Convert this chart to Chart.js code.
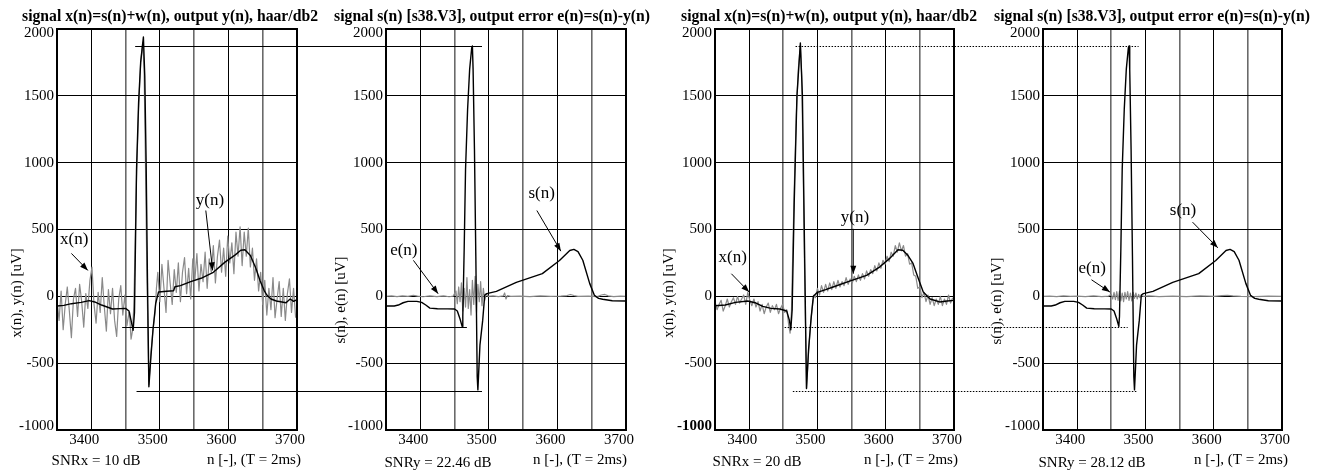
<!DOCTYPE html>
<html>
<head>
<meta charset="utf-8">
<script src="https://cdn.jsdelivr.net/npm/chart.js@4.4.1/dist/chart.umd.min.js"></script>
<style>
  html, body { margin: 0; padding: 0; background: #fff; overflow: hidden; }
  #wrap { position: relative; width: 1317px; height: 472px; }
  canvas { position: absolute; left: 0; top: 0; }
</style>
</head>
<body>
<div id="wrap">
  <canvas id="c0" width="1317" height="472"></canvas>
  <canvas id="c1" width="1317" height="472"></canvas>
  <canvas id="c2" width="1317" height="472"></canvas>
  <canvas id="c3" width="1317" height="472"></canvas>
</div>
<script>
// ---------------- DATA ----------------
const X_MIN = 3350, X_MAX = 3700;
const Y_MIN = -1000, Y_MAX = 2000;
const xTickStep = 50;
const yTickStep = 500;
const NOISE_STEP = 3;

// clean signal s(n) [s38.V3]
const sN = [3350,3362,3368,3375,3382,3395,3402,3408,3414,3425,3440,3450,3454,3458,3461,3462,3464,3466,3469,3472,3475,3476,3477,3479,3481,3483,3484,3487,3491,3494,3497,3511,3540,3578,3603,3618,3624,3630,3637,3647,3654,3660,3666,3680,3700];
const sV = [-72,-72,-65,-48,-38,-38,-45,-65,-88,-93,-94,-95,-110,-170,-225,-150,350,950,1400,1700,1860,1873,1700,1100,300,-600,-700,-365,-180,10,20,37,105,170,268,343,351,335,270,97,7,-15,-22,-33,-35];

// panel 1 (SNRx = 10 dB): noisy x(n), sampled every NOISE_STEP outside the QRS
const x1PreStart = 3350;
const x1Pre = [-30,-180,40,-250,-60,70,-110,-310,-20,60,-150,90,-40,-230,20,-90,120,219,-60,-200,30,-120,140,-80,-260,50,-130,60,-180,-300,-20,80,-140,10,-220,-120];
const x1qN = [3456,3458,3460,3462,3464,3466,3469,3472,3475,3477,3479,3481,3484,3487,3490,3493,3495];
const x1qV = [-150,-320,-260,-80,400,900,1400,1750,1900,1700,1000,200,-660,-420,-250,-120,60];
const x1PostStart = 3497;
const x1Post = [180,-40,240,60,-120,270,100,-60,200,30,250,
  -40,180,290,20,210,-20,280,120,320,40,240,
  110,330,60,280,180,380,100,300,420,180,360,
  150,450,250,400,170,480,300,520,230,480,300,
  510,220,360,120,280,40,180,-60,120,-140,60,
  -100,140,-160,-20,110,-150,60,-180,20,130,-120,
  60,-160];
// panel 1 output y(n)
const y1N = [3350,3360,3371,3385,3397,3405,3415,3431,3442,3450,3455,3458,3461,3463,3466,3469,3472,3476,3478,3480,3482,3484,3487,3490,3494,3498,3510,3520,3522,3530,3545,3560,3578,3595,3610,3618,3624,3632,3640,3646,3652,3656,3662,3670,3678,3684,3690,3695,3700];
const y1V = [-72,-68,-55,-45,-32,-42,-65,-95,-92,-90,-110,-180,-254,-120,950,1450,1750,1940,1650,1000,100,-677,-450,-250,-52,32,38,42,72,80,110,135,180,256,310,345,348,306,210,119,45,10,-20,-35,-42,-48,-20,-38,-25];

// panel 2 error e(n), SNRy = 22.46 dB
const e2N = [3350,3358,3366,3374,3382,3390,3396,3404,3414,3424,3434,3442,3448,3452,3454,3456,3458,3460,3462,3464,3466,3468,3470,3472,3474,3476,3478,3480,3482,3484,3486,3488,3490,3492,3494,3496,3499,3506,3514,3521,3523,3525,3527,3532,3545,3560,3575,3590,3605,3614,3619,3624,3630,3645,3658,3664,3669,3674,3682,3692,3700];
const e2V = [0,3,-2,4,0,8,2,-3,3,-2,4,-3,2,40,-55,70,-40,100,-110,60,-80,140,-90,50,-140,120,-60,150,-120,90,-40,110,-70,60,-30,20,0,4,-2,3,25,-20,5,0,2,-2,3,0,2,6,14,6,0,2,-2,10,14,4,-2,2,0];

// panel 3 (SNRx = 20 dB): noisy x(n)
const x3PreStart = 3350;
const x3Pre = [-40,-100,-60,-30,-110,-70,-20,-80,-40,-10,-60,0,-50,-20,10,-60,30,-30,-70,-20,-80,-40,-110,-60,-130,-80,-50,-120,-70,-100,-60,-130,-90,-60,-120,-100];
const x3qN = [3456,3458,3460,3462,3464,3466,3469,3472,3475,3477,3479,3481,3484,3487,3490,3493,3495];
const x3qV = [-130,-220,-276,-110,350,800,1350,1700,1880,1650,1000,250,-690,-420,-200,-60,10];
const x3PostStart = 3497;
const x3Post = [-10,60,10,80,30,90,40,100,50,110,60,
  120,70,110,80,140,90,130,100,150,110,160,
  120,170,130,190,150,200,170,230,190,250,210,
  270,240,300,260,330,300,380,330,400,340,380,
  300,320,240,250,160,150,60,70,-10,30,-40,
  10,-60,-10,-70,-20,-60,0,-70,-20,-60,10,
  -50,-10];
// panel 3 output y(n)
const y3N = [3350,3365,3380,3398,3410,3420,3432,3445,3455,3459,3461,3463,3466,3470,3475,3478,3481,3484,3487,3491,3494,3500,3512,3523,3545,3572,3591,3605,3618,3625,3632,3640,3648,3655,3665,3679,3690,3700];
const y3V = [-70,-65,-45,-35,-50,-75,-90,-95,-110,-180,-250,-100,700,1500,1895,1500,400,-690,-400,-150,0,30,50,70,110,157,219,280,348,345,310,246,130,32,-20,-42,-35,-30];

// panel 4 error e(n), SNRy = 28.12 dB
const e4N = [3350,3360,3370,3380,3390,3400,3412,3424,3436,3446,3450,3452,3454,3456,3458,3460,3462,3464,3466,3468,3470,3472,3474,3476,3478,3480,3482,3484,3486,3488,3490,3492,3494,3497,3505,3520,3540,3560,3580,3600,3612,3620,3628,3640,3660,3680,3700];
const e4V = [0,2,-2,3,0,2,-2,3,-2,2,15,-20,30,-25,35,-30,40,-35,25,-40,30,-20,35,-30,25,-35,30,-15,25,-20,15,-10,8,0,3,-2,2,-2,3,0,5,8,3,0,-2,2,0];

// texts
const titles = ["signal x(n)=s(n)+w(n), output y(n), haar/db2", "signal s(n) [s38.V3], output error e(n)=s(n)-y(n)",
                "signal x(n)=s(n)+w(n), output y(n), haar/db2", "signal s(n) [s38.V3], output error e(n)=s(n)-y(n)"];
const yTitles = ["x(n), y(n) [uV]", "s(n), e(n) [uV]", "x(n), y(n) [uV]", "s(n), e(n) [uV]"];
const snrTexts = ["SNRx = 10 dB", "SNRy = 22.46 dB", "SNRx = 20 dB", "SNRy = 28.12 dB"];
const xTitle = "n [-], (T = 2ms)";

// connecting reference levels (value, [panel, n] -> [panel, n])
const links12 = [ {v: 1873, a: [0, 3464], b: [1, 3490]}, {v: -229, a: [0, 3445], b: [1, 3468]}, {v: -709, a: [0, 3466], b: [1, 3490]} ];
const links34 = [ {v: 1873, a: [2, 3468], b: [3, 3490]}, {v: -229, a: [2, 3452], b: [3, 3474]}, {v: -709, a: [2, 3464], b: [3, 3488]} ];

// ---------------- HELPERS ----------------
const pts = (ns, vs) => ns.map((n, i) => ({x: n, y: vs[i]}));
const stepPts = (start, vs) => vs.map((v, i) => ({x: start + i * NOISE_STEP, y: v}));
const noisy = (ps, pre, qn, qv, pst, post) => stepPts(ps, pre).concat(pts(qn, qv), stepPts(pst, post));

const FONT = '"Liberation Serif", "Times New Roman", serif';
const GREY = '#8a8a8a';

// layout of each panel (plot area in px) and text placement
const PANELS = [
  {left: 57,   right: 297,  titleX: 170,  yTitleX: 17,   yTitleY: 293, snrX: 96,   labX: 254,  snrY: 461,
   notes: [{t: 'x(n)', tx: 3375, ty: 425, fx: 3371, fy: 321, ax: 3395, ay: 194},
           {t: 'y(n)', tx: 3573, ty: 716, fx: 3567, fy: 642, ax: 3577, ay: 194}]},
  {left: 386,  right: 626,  titleX: 492,  yTitleX: 341,  yTitleY: 300, snrX: 438,  labX: 580,  snrY: 463,
   notes: [{t: 'e(n)', tx: 3376, ty: 343, fx: 3390, fy: 269, ax: 3426, ay: 20},
           {t: 's(n)', tx: 3577, ty: 769, fx: 3570, fy: 642, ax: 3605, ay: 338}]},
  {left: 715,  right: 954,  titleX: 829,  yTitleX: 669,  yTitleY: 293, snrX: 757,  labX: 911,  snrY: 462,
   notes: [{t: 'x(n)', tx: 3376, ty: 293, fx: 3374, fy: 169, ax: 3400, ay: 32},
           {t: 'y(n)', tx: 3555, ty: 590, fx: 3552.5, fy: 505, ax: 3552.5, ay: 169}]},
  {left: 1043, right: 1282, titleX: 1152, yTitleX: 997,  yTitleY: 301, snrX: 1092, labX: 1241, snrY: 463,
   notes: [{t: 'e(n)', tx: 3422, ty: 209, fx: 3421, fy: 124, ax: 3448, ay: 32},
           {t: 's(n)', tx: 3555, ty: 642, fx: 3569, fy: 555, ax: 3606, ay: 363}]}
];

const charts = [];

function arrow(ctx, x1, y1, x2, y2) {
  ctx.beginPath(); ctx.moveTo(x1, y1); ctx.lineTo(x2, y2); ctx.stroke();
  const ang = Math.atan2(y2 - y1, x2 - x1), L = 8, W = 3;
  ctx.beginPath();
  ctx.moveTo(x2, y2);
  ctx.lineTo(x2 - L * Math.cos(ang) + W * Math.sin(ang), y2 - L * Math.sin(ang) - W * Math.cos(ang));
  ctx.lineTo(x2 - L * Math.cos(ang) - W * Math.sin(ang), y2 - L * Math.sin(ang) + W * Math.cos(ang));
  ctx.closePath(); ctx.fill();
}

// nudge the extreme y tick labels inside the frame, like the original
const edgeLabelPlugin = {
  id: 'edgeLabels',
  beforeDraw(chart) {
    const ys = chart.scales.y;
    if (!ys || !ys.getLabelItems) return;
    ys.getLabelItems().forEach(it => {
      if (it._nudged) return;
      const t = it.options && it.options.translation;
      if (!t) return;
      if (String(it.label) === String(Y_MAX)) t[1] += 4;
      if (String(it.label) === String(Y_MIN)) t[1] -= 4;
      it._nudged = true;
    });
  }
};

const decoPlugin = {
  id: 'deco',
  afterDraw(chart) {
    const idx = chart.$panel;
    const P = PANELS[idx];
    const ctx = chart.ctx, a = chart.chartArea, xs = chart.scales.x, ys = chart.scales.y;
    ctx.save();
    ctx.strokeStyle = '#000'; ctx.fillStyle = '#000';
    ctx.lineWidth = 2;
    ctx.strokeRect(a.left, a.top, a.right - a.left, a.bottom - a.top);
    // title
    ctx.font = 'bold 15.7px ' + FONT;
    ctx.textAlign = 'center'; ctx.textBaseline = 'alphabetic';
    ctx.fillText(titles[idx], P.titleX, 21);
    // bottom texts
    ctx.font = '15px ' + FONT;
    ctx.textBaseline = 'middle';
    ctx.fillText(snrTexts[idx], P.snrX, P.snrY);
    ctx.fillText(xTitle, P.labX, 460);
    // y title
    ctx.save();
    ctx.translate(P.yTitleX, P.yTitleY); ctx.rotate(-Math.PI / 2);
    ctx.fillText(yTitles[idx], 0, 0);
    ctx.restore();
    // annotations
    ctx.font = '17px ' + FONT;
    ctx.lineWidth = 1;
    P.notes.forEach(nt => {
      ctx.fillText(nt.t, xs.getPixelForValue(nt.tx), ys.getPixelForValue(nt.ty));
      arrow(ctx, xs.getPixelForValue(nt.fx), ys.getPixelForValue(nt.fy), xs.getPixelForValue(nt.ax), ys.getPixelForValue(nt.ay));
    });
    // connecting reference lines
    const links = idx === 1 ? links12 : (idx === 3 ? links34 : null);
    if (links) {
      ctx.lineWidth = 1;
      if (idx === 3) ctx.setLineDash([1.5, 1.5]);
      links.forEach(l => {
        const ca = charts[l.a[0]] || chart, cb = charts[l.b[0]] || chart;
        const py = Math.round(ys.getPixelForValue(l.v)) + 0.5;
        ctx.beginPath();
        ctx.moveTo(ca.scales.x.getPixelForValue(l.a[1]), py);
        ctx.lineTo(cb.scales.x.getPixelForValue(l.b[1]), py);
        ctx.stroke();
      });
    }
    ctx.restore();
  }
};

function makeChart(idx, datasets) {
  const P = PANELS[idx];
  const c = document.getElementById('c' + idx);
  const ch = new Chart(c, {
    type: 'line',
    data: { datasets },
    options: {
      responsive: false, animation: false, devicePixelRatio: 1, events: [],
      layout: { padding: { left: P.left - 50, right: 1317 - P.right, top: 29, bottom: 0 } },
      plugins: { legend: { display: false }, title: { display: false }, tooltip: { enabled: false } },
      elements: { point: { radius: 0 }, line: { tension: 0, borderJoinStyle: 'round' } },
      scales: {
        x: {
          type: 'linear', min: X_MIN, max: X_MAX,
          afterFit: s => { s.height = 42; },
          border: { display: false },
          grid: {
            drawTicks: false,
            color: c => (c.tick && c.tick.value % 100 === 0) ? '#000' : '#6a6a6a',
            lineWidth: c => (c.tick && c.tick.value % 100 === 0) ? 1 : 1.6
          },
          ticks: {
            stepSize: xTickStep, autoSkip: false, maxRotation: 0, padding: 1, labelOffset: -7,
            color: '#000', font: { family: FONT, size: 15 },
            callback: v => (v % 100 === 0 && v > X_MIN) ? String(v) : ''
          }
        },
        y: {
          type: 'linear', min: Y_MIN, max: Y_MAX,
          afterFit: s => { s.width = 50; },
          border: { display: false },
          grid: { drawTicks: false, color: '#000', lineWidth: 1 },
          ticks: {
            stepSize: yTickStep, padding: 3, color: '#000',
            font: c => ({ family: FONT, size: 15, weight: (idx === 2 && c.tick && c.tick.value === -1000) ? 'bold' : 'normal' }),
            callback: v => String(v)
          }
        }
      }
    },
    plugins: [{ id: 'setIdx', beforeInit(chart) { chart.$panel = idx; } }, edgeLabelPlugin, decoPlugin]
  });
  charts[idx] = ch;
  return ch;
}

const blk = (data) => ({ data, borderColor: '#000', borderWidth: 1.4, fill: false });
const gry = (data) => ({ data, borderColor: GREY, borderWidth: 1.2, fill: false });

makeChart(0, [ blk(pts(y1N, y1V)), gry(noisy(x1PreStart, x1Pre, x1qN, x1qV, x1PostStart, x1Post)) ]);
makeChart(1, [ blk(pts(sN, sV)), gry(pts(e2N, e2V)) ]);
makeChart(2, [ blk(pts(y3N, y3V)), gry(noisy(x3PreStart, x3Pre, x3qN, x3qV, x3PostStart, x3Post)) ]);
makeChart(3, [ blk(pts(sN, sV)), gry(pts(e4N, e4V)) ]);
</script>
</body>
</html>
